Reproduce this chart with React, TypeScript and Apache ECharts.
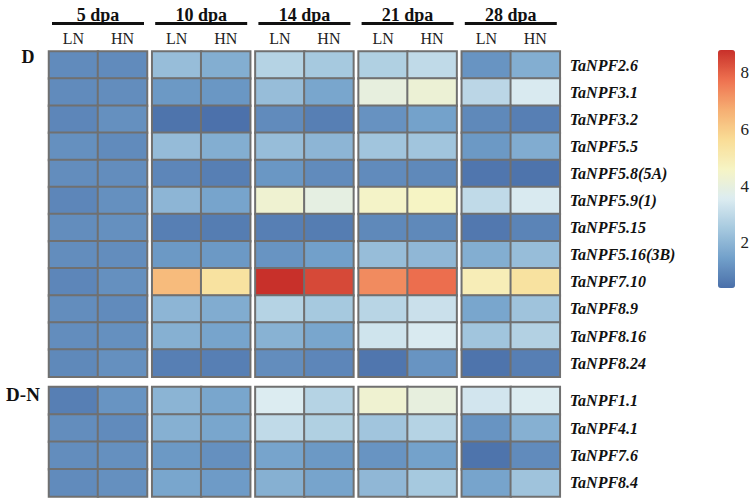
import React, { useEffect, useRef } from "react";
import * as echarts from "echarts";

const timePoints = ["5 dpa", "10 dpa", "14 dpa", "21 dpa", "28 dpa"];
const treatments = ["LN", "HN"];
const groupLabels = ["D", "D-N"];

const genesD = [
  "TaNPF2.6", "TaNPF3.1", "TaNPF3.2", "TaNPF5.5", "TaNPF5.8(5A)", "TaNPF5.9(1)",
  "TaNPF5.15", "TaNPF5.16(3B)", "TaNPF7.10", "TaNPF8.9", "TaNPF8.16", "TaNPF8.24",
];
const genesDN = ["TaNPF1.1", "TaNPF4.1", "TaNPF7.6", "TaNPF8.4"];

// columns: 5LN,5HN,10LN,10HN,14LN,14HN,21LN,21HN,28LN,28HN
const valuesD = [
  [1.0, 1.0, 2.2, 1.8, 2.8, 2.5, 2.7, 3.0, 1.2, 1.8],
  [1.0, 1.05, 1.3, 1.25, 2.2, 1.6, 4.0, 4.2, 2.9, 3.5],
  [0.9, 1.1, 0.5, 0.45, 1.0, 0.75, 1.15, 1.5, 0.95, 0.75],
  [1.1, 1.0, 2.15, 1.8, 2.2, 2.0, 2.4, 2.4, 1.3, 1.75],
  [1.05, 1.05, 0.9, 0.75, 1.25, 1.0, 1.0, 0.95, 0.55, 0.5],
  [0.9, 1.1, 2.0, 1.55, 4.3, 3.9, 4.5, 4.6, 3.0, 3.5],
  [1.05, 1.1, 0.75, 0.7, 0.75, 0.7, 0.95, 0.95, 0.6, 0.85],
  [1.05, 1.05, 1.3, 1.3, 1.2, 1.45, 2.2, 2.05, 1.8, 2.2],
  [0.9, 1.1, 6.4, 5.4, 8.8, 8.4, 7.3, 7.8, 4.9, 5.4],
  [1.05, 1.0, 2.0, 1.75, 2.8, 2.5, 2.85, 3.2, 1.6, 2.35],
  [1.05, 1.1, 1.85, 1.55, 1.9, 1.6, 3.3, 3.5, 2.4, 2.75],
  [0.95, 1.1, 0.75, 0.75, 1.05, 0.9, 0.55, 1.2, 0.5, 0.75],
];
const valuesDN = [
  [0.75, 1.2, 1.95, 1.6, 3.55, 2.8, 4.3, 4.0, 3.35, 3.55],
  [1.05, 1.0, 1.85, 1.6, 3.0, 2.7, 2.4, 2.8, 1.2, 1.85],
  [1.05, 1.1, 1.3, 1.1, 1.55, 1.3, 1.2, 1.5, 0.5, 1.0],
  [1.0, 1.1, 1.6, 1.35, 1.85, 1.55, 2.05, 2.5, 1.55, 2.35],
];

const scaleMin = 0.4;
const scaleMax = 8.8;
const scaleColors = [
  "#4a6fa9", "#72a0ca", "#a6c9df", "#dcecf1", "#f6f4c4",
  "#f9dc95", "#f6ae72", "#ee7150", "#c8302a",
];

const SERIF = "'Liberation Serif', 'Times New Roman', serif";

export default function App() {
  const ref = useRef<HTMLDivElement>(null);
  useEffect(() => {
    if (!ref.current) return;
    const chart = echarts.init(ref.current, undefined, { renderer: "svg" });

    const blockLeft0 = 49;
    const blockStep = 103.2;
    const blockW = 98;
    const blocks = [
      { genes: genesD, values: valuesD, top: 51.5, height: 325.2 },
      { genes: genesDN, values: valuesDN, top: 387, height: 109.5 },
    ];

    const grid: any[] = [];
    const xAxis: any[] = [];
    const yAxis: any[] = [];
    const series: any[] = [];

    blocks.forEach((blk, b) => {
      timePoints.forEach((_, t) => {
        const gi = grid.length;
        grid.push({
          left: blockLeft0 + t * blockStep,
          top: blk.top,
          width: blockW,
          height: blk.height,
          show: false,
        });
        xAxis.push({
          type: "category",
          gridIndex: gi,
          data: treatments,
          position: "top",
          axisLine: { show: false },
          axisTick: { show: false },
          splitLine: { show: false },
          axisLabel: {
            show: b === 0,
            margin: 5,
            fontFamily: SERIF,
            fontSize: 16,
            color: "#222",
          },
        });
        yAxis.push({
          type: "category",
          gridIndex: gi,
          data: blk.genes,
          inverse: true,
          position: "right",
          axisLine: { show: false },
          axisTick: { show: false },
          splitLine: { show: false },
          axisLabel: {
            show: t === timePoints.length - 1,
            margin: 10,
            fontFamily: SERIF,
            fontSize: 16,
            fontWeight: "bold",
            fontStyle: "italic",
            color: "#111",
          },
        });
        const data: any[] = [];
        blk.genes.forEach((_, r) => {
          treatments.forEach((__, c) => {
            data.push([c, r, blk.values[r][t * 2 + c]]);
          });
        });
        series.push({
          type: "heatmap",
          xAxisIndex: gi,
          yAxisIndex: gi,
          data,
          itemStyle: { borderColor: "#707070", borderWidth: 2 },
          emphasis: { disabled: true },
          label: { show: false },
        });
      });
    });

    // colour bar axis
    const cbLeft = 718;
    const cbTop = 50;
    const cbW = 17;
    const cbH = 238;
    const cbGrid = grid.length;
    grid.push({ left: cbLeft, top: cbTop, width: cbW, height: cbH, show: false });
    xAxis.push({ type: "value", gridIndex: cbGrid, show: false });
    yAxis.push({
      type: "value",
      gridIndex: cbGrid,
      min: scaleMin,
      max: scaleMax,
      position: "right",
      axisLine: { show: false },
      axisTick: { show: false },
      splitLine: { show: false },
      axisLabel: {
        margin: 6,
        fontFamily: SERIF,
        fontSize: 17,
        color: "#222",
        showMinLabel: false,
        showMaxLabel: false,
        formatter: (v: number) => (Number.isInteger(v) && v % 2 === 0 ? String(v) : ""),
      },
    });

    const graphic: any[] = [];
    timePoints.forEach((tp, t) => {
      const cx = blockLeft0 + t * blockStep + blockW / 2;
      graphic.push({
        type: "text",
        x: cx,
        y: 15,
        style: {
          text: tp,
          fontFamily: SERIF,
          fontSize: 18,
          fontWeight: "bold",
          fill: "#111",
          textAlign: "center",
          textVerticalAlign: "middle",
        },
      });
      graphic.push({
        type: "rect",
        shape: { x: cx - 46, y: 22, width: 92, height: 3 },
        style: { fill: "#111" },
      });
    });
    graphic.push({
      type: "text",
      x: 28,
      y: 57,
      style: {
        text: groupLabels[0],
        fontFamily: SERIF,
        fontSize: 18,
        fontWeight: "bold",
        fill: "#111",
        textAlign: "center",
        textVerticalAlign: "middle",
      },
    });
    graphic.push({
      type: "text",
      x: 23,
      y: 394,
      style: {
        text: groupLabels[1],
        fontFamily: SERIF,
        fontSize: 19,
        fontWeight: "bold",
        fill: "#111",
        textAlign: "center",
        textVerticalAlign: "middle",
      },
    });

    chart.setOption({
      animation: false,
      backgroundColor: "#ffffff",
      grid,
      xAxis,
      yAxis,
      series,
      graphic,
      visualMap: {
        type: "continuous",
        min: scaleMin,
        max: scaleMax,
        left: cbLeft,
        top: cbTop,
        padding: 0,
        itemWidth: cbW,
        itemHeight: cbH,
        calculable: false,
        orient: "vertical",
        text: ["", ""],
        inRange: { color: scaleColors },
      },
    });
    return () => chart.dispose();
  }, []);
  return (
    <div
      ref={ref}
      style={{ position: "absolute", left: 0, top: 0, width: 752, height: 499 }}
    />
  );
}
